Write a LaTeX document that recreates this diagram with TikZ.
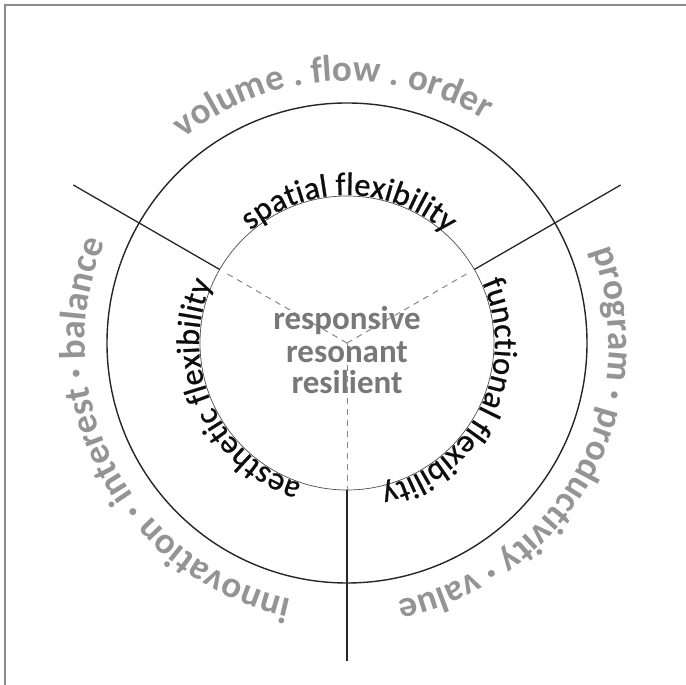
\documentclass[tikz,border=0pt]{standalone}
\usepackage{fontspec}
\setmainfont{Carlito}
\newfontfamily\innerface[FakeBold=0.8]{Carlito}
\usetikzlibrary{decorations.text}
\definecolor{ringgray}{RGB}{148,148,148}
\definecolor{centergray}{RGB}{120,120,120}
\definecolor{dashgray}{RGB}{135,135,135}
\definecolor{framegray}{RGB}{140,140,140}
\newcommand{\outerfont}{\fontsize{37}{42}\selectfont\bfseries\color{ringgray}}
\newcommand{\innerfont}{\fontsize{32.5}{38}\innerface\color{black!95}}
\begin{document}
\begin{tikzpicture}[x=1pt,y=1pt,
  ring/.style={line width=1.4pt, black!85},
  innerring/.style={line width=0.7pt, black!70},
  spoke/.style={line width=1.3pt, black!85},
  dashspoke/.style={line width=1pt, dashgray, dash pattern=on 6pt off 5pt},
  centertext/.style={font=\fontsize{33}{38}\selectfont\bfseries, text=centergray, inner sep=0pt, anchor=base},
  arctext/.style={decorate, decoration={text along path, text align=center, text={#1}}}
]
\useasboundingbox (0,0) rectangle (686,685);
\draw[line width=1.5pt, framegray] (686,680) -- (5,680) -- (5,0);
\coordinate (C) at (347,342);
% circles
\draw[ring] (C) circle[radius=240];
\draw[innerring] (C) circle[radius=147];
% spoke end points
\coordinate (il) at ([shift={(150:147)}]C);
\coordinate (ir) at ([shift={(30:147)}]C);
\coordinate (ib) at ([shift={(270:147)}]C);
\coordinate (ol) at ([shift={(150:316)}]C);
\coordinate (or) at ([shift={(30:316)}]C);
\coordinate (ob) at ([shift={(270:318)}]C);
\coordinate (dl) at ([shift={(150:138)}]C);
\coordinate (dr) at ([shift={(30:138)}]C);
\draw[spoke] (il) -- (ol);
\draw[spoke] (ir) -- (or);
\draw[spoke] (ib) -- (ob);
\draw[dashspoke] (dl) -- (C);
\draw[dashspoke] (dr) -- (C);
\draw[dashspoke] (C) -- (ib);
% centre text
\node[centertext] (c1) at (347,355) {responsive};
\node[centertext] (c2) at (347,322) {resonant};
\node[centertext] (c3) at (347,291) {resilient};
% inner ring texts (centred on their sector)
\path[arctext={|\innerfont|spatial flexibility}] ([shift={(169.2:148)}]C) arc[start angle=169.2, end angle=9.2, radius=148];
\path[arctext={|\innerfont|functional flexibility}] ([shift={(53.6:148)}]C) arc[start angle=53.6, end angle=-106.4, radius=148];
\path[arctext={|\innerfont|aesthetic flexibility}] ([shift={(284.1:148)}]C) arc[start angle=284.1, end angle=124.1, radius=148];
% outer ring texts
\path[arctext={|\outerfont|volume . flow . order}] ([shift={(173.5:262)}]C) arc[start angle=173.5, end angle=13.5, radius=262];
\path[arctext={|\outerfont|program · productivity · value}] ([shift={(50.8:262)}]C) arc[start angle=50.8, end angle=-109.2, radius=262];
\path[arctext={|\outerfont|innovation · interest · balance}] ([shift={(287.6:262)}]C) arc[start angle=287.6, end angle=127.6, radius=262];
\end{tikzpicture}
\end{document}
